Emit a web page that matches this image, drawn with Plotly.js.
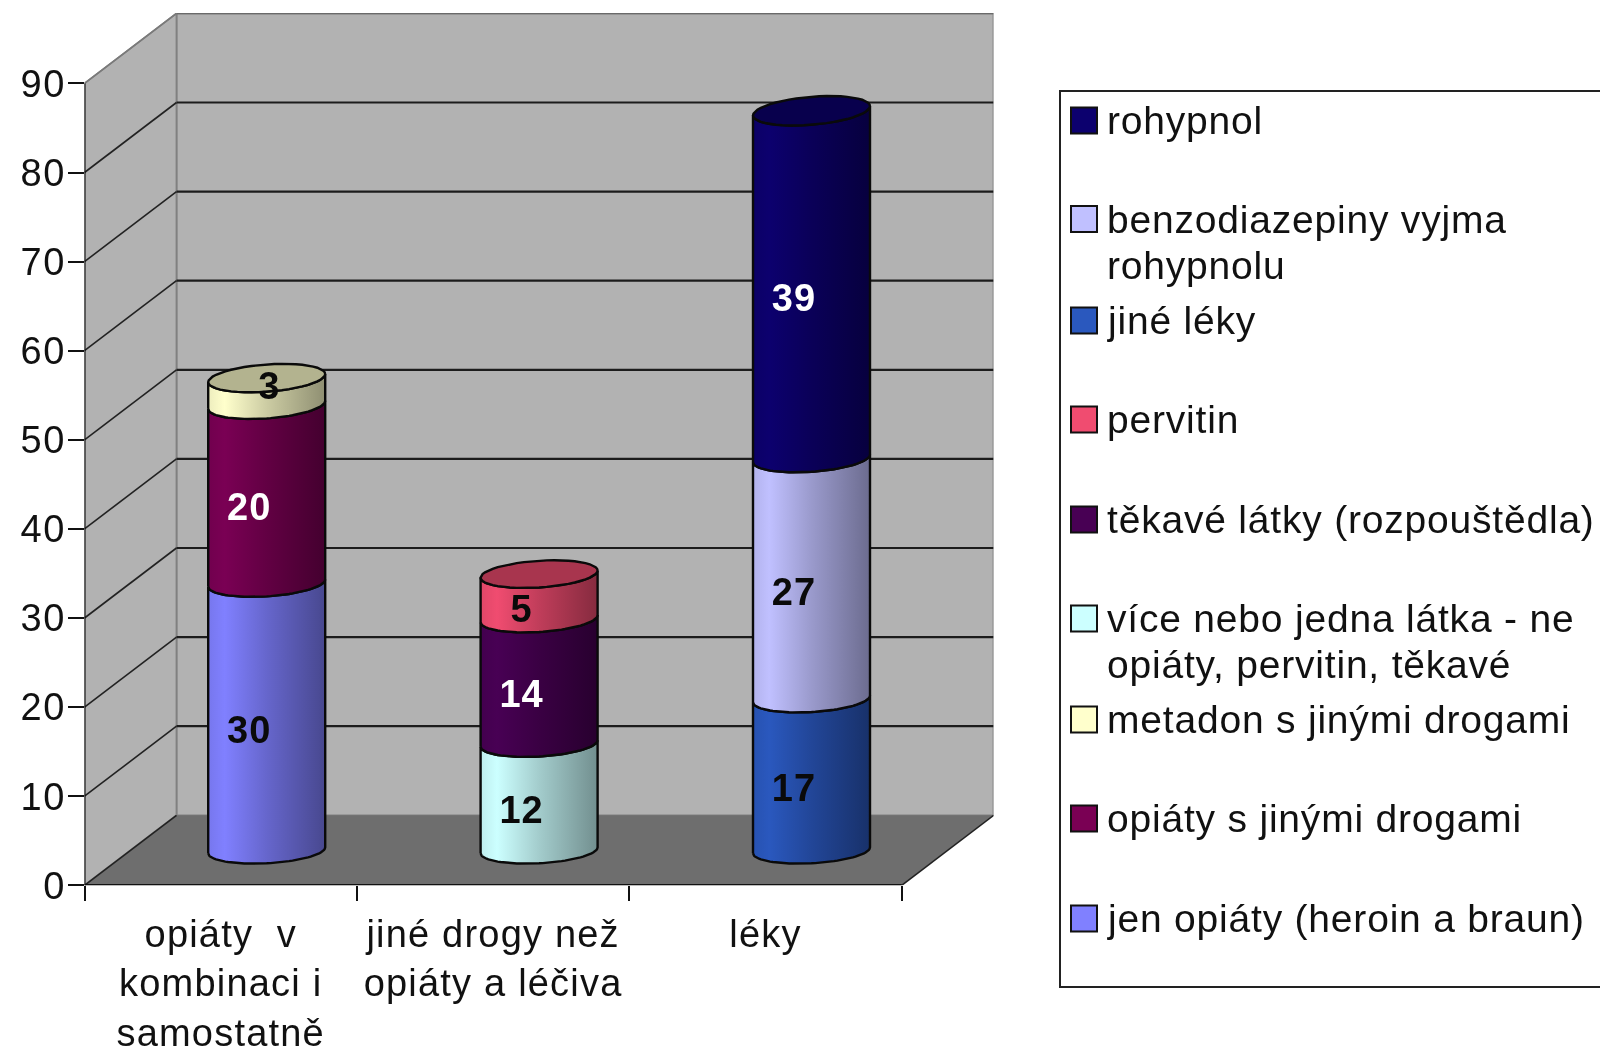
<!DOCTYPE html>
<html><head><meta charset="utf-8">
<script src="https://cdn.plot.ly/plotly-3.0.1.min.js"></script>
<style>html,body{margin:0;padding:0;background:#fff;overflow:hidden}#c{width:1600px;height:1048px;filter:blur(0.55px)}
.annotation-text{letter-spacing:0.8px}
.xtick text{letter-spacing:1.2px}
.ytick text{letter-spacing:1.5px}
.textpoint text{letter-spacing:1px}
</style>
</head><body><div id="c"></div>
<script>
const categories = ['opiáty\u00a0 v<br>kombinaci i<br>samostatně', 'jiné drogy než<br>opiáty a léčiva', 'léky'];
const yTicks = [0,10,20,30,40,50,60,70,80,90];

// stack values, bottom to top
const jenOpiaty = [30, null, null];
const opiatySJinymi = [20, null, null];
const metadon = [3, null, null];
const viceLatek = [null, 12, null];
const tekave = [null, 14, null];
const pervitin = [null, 5, null];
const jineLeky = [null, null, 17];
const benzo = [null, null, 27];
const rohypnol = [null, null, 39];

const seriesNames = ['jen opiáty (heroin a braun)','opiáty s jinými drogami','metadon s jinými drogami','více nebo jedna látka - ne<br>opiáty, pervitin, těkavé','těkavé látky (rozpouštědla)','pervitin','jiné léky','benzodiazepiny vyjma<br>rohypnolu','rohypnol'];
const seriesValues = [jenOpiaty,opiatySJinymi,metadon,viceLatek,tekave,pervitin,jineLeky,benzo,rohypnol];
const seriesColors = [[128,128,255],[122,0,84],[255,255,204],[204,255,255],[72,0,84],[240,76,112],[42,88,190],[192,192,255],[12,0,110]];
const whiteLabels = [false,true,false,false,true,false,false,false,true];
const labelShiftPx = [[0,0],[0,0],[20,-18],[0,0],[0,0],[0,0],[0,0],[0,0],[0,0]];

// layout geometry in pixels
const W=1600,H=1048,X0=84.5,Y0=885.3,CAT=272.4,UNIT=8.91,DX=92,DY=70;
const dxC=DX/CAT, dyU=DY/UNIT;
const xMin=-0.5,xEnd=2.5,xMax=xMin+(909/CAT),yTop=(Y0-13)/UNIT;
const rx=58.5/CAT;

const traces=[];
function poly(x,y,fill,lineColor,w){traces.push({type:'scatter',mode:w?'lines':'none',x,y,fill:'toself',fillcolor:fill,line:{color:lineColor||fill,width:w||0},hoverinfo:'skip',showlegend:false});}
function line(x,y,c,w){traces.push({type:'scatter',mode:'lines',x,y,line:{color:c,width:w},hoverinfo:'skip',showlegend:false});}

const top90=90, bk=dyU;
poly([xMin+dxC,xMax,xMax,xMin+dxC,xMin+dxC],[bk,bk,top90+bk,top90+bk,bk],'#b2b2b2','#808080',1.8);
poly([xMin,xMin+dxC,xMin+dxC,xMin,xMin],[0,bk,top90+bk,top90,0],'#b2b2b2','#808080',1.8);
poly([xMin,xEnd,xEnd+dxC,xMin+dxC,xMin],[0,0,bk,bk,0],'#6e6e6e');
yTicks.forEach(v=>{
  if(v>0) line([xMin+dxC,xMax],[v+bk,v+bk],v===90?'#6a6a6a':'#1c1c1c',v===90?1.8:2.2);
  line([xMin,xMin+dxC],[v,v+bk],v===90?'#7a7a7a':'#222',1.6);
});
line([xEnd,xEnd+dxC],[0,bk],'#222',1.6);
line([xMin,xMin],[0,90],'#111',2);
line([xMin,xEnd],[0,0],'#111',2.4);

function arc(cx,cy,from,to){
  const xs=[],ys=[],n=48;
  for(let i=0;i<=n;i++){
    const t=from+(to-from)*i/n;
    const v=cy-dyU/2;
    const ry=(13+0.012*v)/UNIT, tilt=(3+0.02*v)/UNIT;
    xs.push(cx+rx*Math.cos(t));
    ys.push(cy+ry*Math.sin(t)+tilt*Math.cos(t));
  }
  return [xs,ys];
}
const shade=(c,f)=>`rgb(${c.map(v=>Math.round(v*f)).join(',')})`;
const labelX=[],labelY=[],labelT=[],labelC=[];
categories.forEach((_,ci)=>{
  const cx=ci+dxC/2;
  let acc=0,topColor=null;
  seriesValues.forEach((vals,si)=>{
    const val=vals[ci];
    if(val==null) return;
    const a=acc, b=acc+val;
    const [x1,y1]=arc(cx,a+dyU/2,Math.PI,2*Math.PI);
    const [x2,y2]=arc(cx,b+dyU/2,2*Math.PI,Math.PI);
    const c=seriesColors[si];
    traces.push({type:'scatter',mode:'lines',x:x1.concat(x2,[x1[0]]),y:y1.concat(y2,[y1[0]]),fill:'toself',
      fillgradient:{type:'horizontal',colorscale:[[0,shade(c,0.93)],[0.14,shade(c,1)],[0.5,shade(c,0.8)],[1,shade(c,0.56)]]},
      line:{color:'#0a0a0a',width:2.4},hoverinfo:'skip',showlegend:false});
    labelX.push(cx-17.5/CAT+labelShiftPx[si][0]/CAT);
    labelY.push((a+b)/2+dyU/2-16.5/UNIT-labelShiftPx[si][1]/UNIT);
    labelT.push(String(val));
    labelC.push(whiteLabels[si]?'#fff':'#0a0a0a');
    acc=b; topColor=c;
  });
  const [ex,ey]=arc(cx,acc+dyU/2,0,2*Math.PI);
  traces.push({type:'scatter',mode:'lines',x:ex,y:ey,fill:'toself',fillcolor:shade(topColor,0.7),line:{color:'#0a0a0a',width:2.4},hoverinfo:'skip',showlegend:false});
});
traces.push({type:'scatter',mode:'text',x:labelX,y:labelY,text:labelT,textposition:'middle center',
  textfont:{family:'"Liberation Sans",Arial,sans-serif',size:38,color:labelC,weight:700},hoverinfo:'skip',showlegend:false});

// legend, top to bottom
const legendOrder=[8,7,6,5,4,3,2,1,0];
const legendY=[120.4,219,320.5,419.5,519.5,618.5,719.5,818.5,918.5];
const px=v=>v/W, py=v=>1-v/H;
const shapes=[{type:'rect',xref:'paper',yref:'paper',x0:px(1060),x1:px(1640),y0:py(91),y1:py(987),line:{color:'#222',width:2},fillcolor:'#fff'}];
const annotations=[];
legendOrder.forEach((si,i)=>{
  const y=legendY[i];
  shapes.push({type:'rect',xref:'paper',yref:'paper',x0:px(1071),x1:px(1097),y0:py(y-13),y1:py(y+13),line:{color:'#111',width:2},fillcolor:shade(seriesColors[si],1)});
  seriesNames[si].split('<br>').forEach((t,k)=>{
    annotations.push({xref:'paper',yref:'paper',x:px(1106),y:py(y+k*46),xanchor:'left',yanchor:'middle',align:'left',showarrow:false,borderpad:0,
      text:t,font:{family:'"Liberation Sans",Arial,sans-serif',size:39,color:'#111'}});
  });
});

Plotly.newPlot('c',traces,{
  width:W,height:H,margin:{l:0,r:0,t:0,b:0},paper_bgcolor:'#fff',plot_bgcolor:'rgba(0,0,0,0)',showlegend:false,
  font:{family:'"Liberation Sans",Arial,sans-serif',color:'#111'},
  xaxis:{domain:[X0/W,(X0+909)/W],range:[xMin,xMax],showgrid:false,zeroline:false,showline:false,
    tickmode:'array',tickvals:[0,1,2],ticktext:categories,ticks:'outside',ticklen:15,tickcolor:'rgba(0,0,0,0)',tickfont:{size:38,color:'#111'},ticklabelstandoff:0,tickangle:0,
    minor:{tickmode:'array',tickvals:[-0.5,0.5,1.5,2.5],ticks:'outside',ticklen:15,tickwidth:2,tickcolor:'#111',showgrid:false}},
  yaxis:{domain:[1-Y0/H,1-13/H],range:[0,yTop],showgrid:false,zeroline:false,showline:false,
    tickmode:'array',tickvals:yTicks,ticktext:yTicks.map(String),ticks:'outside',ticklen:16,tickwidth:2,tickcolor:'#111',tickfont:{size:38,color:'#111'},ticklabelstandoff:-6},
  shapes,annotations
},{staticPlot:true,displayModeBar:false});
</script></body></html>
